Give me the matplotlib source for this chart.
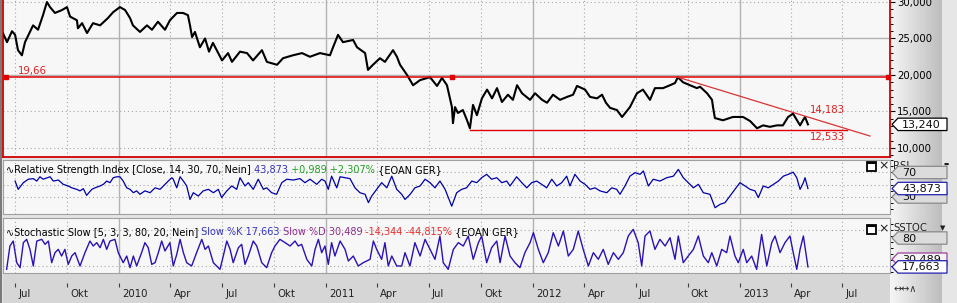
import datetime as dt
import matplotlib
matplotlib.use("Agg")
import matplotlib.pyplot as plt
import numpy as np
from matplotlib.patches import Polygon, Rectangle
from matplotlib.transforms import ScaledTranslation, blended_transform_factory

plt.rcParams['font.family'] = ['DejaVu Sans']

# ---------------- data (decimal years / EUR / indicator values) ----------------
price_t = [2009.436, 2009.456, 2009.480, 2009.495, 2009.509, 2009.528, 2009.543, 2009.582, 2009.606, 2009.630,
           2009.649, 2009.664, 2009.688, 2009.722, 2009.746, 2009.761, 2009.794, 2009.799, 2009.819, 2009.843,
           2009.872, 2009.906, 2009.944, 2009.969, 2010.002, 2010.027, 2010.051, 2010.065, 2010.099, 2010.133,
           2010.157, 2010.186, 2010.220, 2010.244, 2010.278, 2010.307, 2010.331, 2010.341, 2010.351, 2010.365,
           2010.389, 2010.414, 2010.433, 2010.452, 2010.496, 2010.525, 2010.544, 2010.583, 2010.617, 2010.646,
           2010.689, 2010.713, 2010.762, 2010.791, 2010.839, 2010.883, 2010.921, 2010.970, 2011.018, 2011.033,
           2011.057, 2011.081, 2011.130, 2011.149, 2011.188, 2011.202, 2011.226, 2011.260, 2011.284, 2011.323,
           2011.342, 2011.357, 2011.391, 2011.420, 2011.454, 2011.502, 2011.536, 2011.560, 2011.584, 2011.608,
           2011.613, 2011.623, 2011.637, 2011.661, 2011.681, 2011.695, 2011.710, 2011.729, 2011.753, 2011.778,
           2011.802, 2011.826, 2011.850, 2011.879, 2011.903, 2011.923, 2011.947, 2011.986, 2012.010, 2012.044,
           2012.068, 2012.097, 2012.131, 2012.165, 2012.194, 2012.213, 2012.252, 2012.276, 2012.310, 2012.334,
           2012.353, 2012.373, 2012.406, 2012.431, 2012.469, 2012.503, 2012.532, 2012.566, 2012.590, 2012.629,
           2012.663, 2012.687, 2012.701, 2012.726, 2012.760, 2012.793, 2012.808, 2012.842, 2012.866, 2012.871,
           2012.880, 2012.919, 2012.967, 2013.016, 2013.050, 2013.084, 2013.113, 2013.146, 2013.180, 2013.209,
           2013.234, 2013.258, 2013.277, 2013.292, 2013.306, 2013.316, 2013.330]
price_v = [25.75, 24.50, 26.00, 25.50, 23.40, 22.70, 24.50, 26.80, 26.20, 28.20,
           30.00, 29.30, 28.50, 28.90, 29.30, 28.00, 27.50, 26.40, 27.10, 25.75,
           27.10, 26.80, 27.80, 28.60, 29.30, 28.90, 27.80, 26.80, 25.90, 26.80,
           26.20, 27.30, 26.20, 27.50, 28.50, 28.50, 28.20, 26.80, 25.20, 25.90,
           23.80, 25.00, 23.20, 24.40, 22.00, 23.00, 21.80, 23.20, 23.00, 22.00,
           23.40, 21.80, 21.40, 22.30, 22.70, 23.00, 22.50, 23.00, 22.70, 23.80,
           25.50, 24.50, 24.80, 23.80, 23.00, 20.70, 21.40, 22.30, 21.80, 23.40,
           22.50, 21.40, 20.00, 18.60, 19.30, 19.70, 18.50, 19.60, 18.60, 15.60,
           13.40, 15.60, 14.80, 15.20, 13.80, 12.70, 15.90, 14.50, 16.80, 18.00,
           16.80, 18.20, 16.30, 17.30, 16.60, 18.60, 17.50, 16.60, 17.50, 16.60,
           16.20, 17.30, 16.60, 17.00, 17.30, 18.50, 18.00, 17.00, 16.80, 17.30,
           16.20, 15.50, 15.20, 14.25, 15.60, 17.50, 18.00, 16.60, 18.20, 18.20,
           18.60, 18.90, 19.70, 19.00, 18.60, 18.20, 18.40, 17.50, 16.60, 15.60,
           14.10, 13.80, 14.25, 14.25, 13.70, 12.70, 13.10, 12.90, 13.10, 13.10,
           14.25, 14.70, 13.80, 13.10, 13.80, 14.25, 13.24]

rsi_t = [2009.495, 2009.510, 2009.535, 2009.559, 2009.583, 2009.600, 2009.615, 2009.631, 2009.664, 2009.680,
         2009.704, 2009.728, 2009.752, 2009.769, 2009.793, 2009.809, 2009.825, 2009.841, 2009.866, 2009.882,
         2009.906, 2009.922, 2009.938, 2009.954, 2009.970, 2009.987, 2010.002, 2010.018, 2010.035, 2010.051,
         2010.067, 2010.083, 2010.099, 2010.123, 2010.148, 2010.172, 2010.196, 2010.212, 2010.236, 2010.253,
         2010.260, 2010.277, 2010.293, 2010.309, 2010.325, 2010.341, 2010.357, 2010.381, 2010.405, 2010.430,
         2010.454, 2010.478, 2010.494, 2010.519, 2010.543, 2010.567, 2010.583, 2010.607, 2010.623, 2010.647,
         2010.671, 2010.696, 2010.712, 2010.736, 2010.760, 2010.785, 2010.809, 2010.841, 2010.873, 2010.897,
         2010.922, 2010.954, 2010.978, 2010.994, 2011.010, 2011.026, 2011.051, 2011.067, 2011.091, 2011.115,
         2011.139, 2011.163, 2011.188, 2011.204, 2011.220, 2011.244, 2011.268, 2011.293, 2011.317, 2011.341,
         2011.365, 2011.381, 2011.405, 2011.429, 2011.454, 2011.478, 2011.502, 2011.526, 2011.550, 2011.575,
         2011.607, 2011.631, 2011.655, 2011.679, 2011.704, 2011.728, 2011.752, 2011.776, 2011.800, 2011.825,
         2011.849, 2011.873, 2011.889, 2011.921, 2011.946, 2011.970, 2011.994, 2012.018, 2012.042, 2012.066,
         2012.091, 2012.115, 2012.139, 2012.163, 2012.179, 2012.203, 2012.228, 2012.252, 2012.276, 2012.300,
         2012.324, 2012.357, 2012.381, 2012.405, 2012.421, 2012.445, 2012.469, 2012.494, 2012.518, 2012.534,
         2012.558, 2012.582, 2012.614, 2012.647, 2012.679, 2012.703, 2012.727, 2012.751, 2012.776, 2012.800,
         2012.824, 2012.856, 2012.881, 2012.905, 2012.929, 2012.953, 2012.977, 2013.001, 2013.026, 2013.050,
         2013.074, 2013.090, 2013.114, 2013.138, 2013.163, 2013.187, 2013.211, 2013.235, 2013.259, 2013.276,
         2013.292, 2013.308, 2013.316, 2013.330]
rsi_v = [56, 42.5, 53.4, 59, 60, 56, 63, 59, 63, 56,
         57.7, 50.7, 48, 45, 42.5, 40, 43.6, 32.7, 42.5, 45,
         48, 50.7, 56, 53.4, 61.5, 63, 63, 56, 45, 42.5,
         37, 40, 34.4, 40, 37, 45, 42.5, 48, 56, 61.5,
         59, 45, 63, 56, 48, 26, 37, 31.6, 40, 42.5,
         37, 42.5, 29, 40, 48, 42.5, 61.5, 48, 53.4, 42.5,
         59, 42.5, 45, 37, 34.4, 53.4, 59, 57.7, 60, 53.4,
         59, 50.7, 59, 56, 42.5, 64, 45, 63, 61.5, 60,
         45, 37, 34.4, 20.8, 31.6, 42.5, 53.4, 45, 64, 42.5,
         34.4, 26, 34, 45, 48, 59, 53.4, 45, 56, 42.5,
         15, 37, 42.5, 45, 56, 53.4, 61.5, 67, 59, 61.5,
         53.4, 56, 48, 63, 53.4, 45, 53.4, 56, 50.7, 45,
         59, 48, 53.4, 64, 48, 67, 56, 50.7, 42.5, 45,
         40, 37, 45, 42.5, 34.4, 48, 64, 69.7, 67, 72.5,
         48, 59, 56, 61.5, 64, 75, 61.5, 53.4, 45, 50.7,
         37, 34.4, 12.5, 18, 20.8, 31.6, 42.5, 53.4, 48, 42.5,
         40, 29, 48, 45, 50.7, 56, 64, 67, 70.5, 61.5,
         42.5, 53.4, 61.5, 43.873]

stoch_t = [2009.454, 2009.470, 2009.486, 2009.503, 2009.519, 2009.535, 2009.551, 2009.567, 2009.583, 2009.600,
           2009.624, 2009.640, 2009.656, 2009.672, 2009.688, 2009.704, 2009.720, 2009.736, 2009.752, 2009.769,
           2009.785, 2009.809, 2009.833, 2009.857, 2009.873, 2009.890, 2009.906, 2009.922, 2009.938, 2009.954,
           2009.978, 2009.994, 2010.018, 2010.035, 2010.051, 2010.067, 2010.083, 2010.107, 2010.123, 2010.139,
           2010.156, 2010.172, 2010.188, 2010.204, 2010.220, 2010.244, 2010.260, 2010.277, 2010.293, 2010.309,
           2010.325, 2010.349, 2010.373, 2010.398, 2010.414, 2010.430, 2010.454, 2010.486, 2010.502, 2010.519,
           2010.535, 2010.550, 2010.575, 2010.591, 2010.607, 2010.623, 2010.647, 2010.664, 2010.688, 2010.712,
           2010.736, 2010.752, 2010.776, 2010.801, 2010.825, 2010.849, 2010.865, 2010.881, 2010.906, 2010.930,
           2010.946, 2010.962, 2010.978, 2010.994, 2011.010, 2011.026, 2011.042, 2011.067, 2011.091, 2011.107,
           2011.131, 2011.155, 2011.179, 2011.212, 2011.228, 2011.244, 2011.268, 2011.284, 2011.300, 2011.317,
           2011.341, 2011.365, 2011.381, 2011.405, 2011.429, 2011.454, 2011.478, 2011.502, 2011.526, 2011.550,
           2011.566, 2011.590, 2011.615, 2011.639, 2011.663, 2011.687, 2011.711, 2011.736, 2011.752, 2011.776,
           2011.800, 2011.825, 2011.841, 2011.865, 2011.889, 2011.913, 2011.937, 2011.961, 2011.986, 2012.002,
           2012.026, 2012.050, 2012.074, 2012.098, 2012.123, 2012.147, 2012.171, 2012.195, 2012.219, 2012.243,
           2012.268, 2012.292, 2012.316, 2012.340, 2012.364, 2012.389, 2012.413, 2012.437, 2012.461, 2012.485,
           2012.509, 2012.526, 2012.542, 2012.566, 2012.590, 2012.614, 2012.639, 2012.663, 2012.687, 2012.703,
           2012.727, 2012.751, 2012.776, 2012.800, 2012.824, 2012.848, 2012.865, 2012.889, 2012.913, 2012.937,
           2012.953, 2012.977, 2012.993, 2013.017, 2013.034, 2013.058, 2013.082, 2013.106, 2013.131, 2013.155,
           2013.171, 2013.195, 2013.219, 2013.243, 2013.259, 2013.276, 2013.292, 2013.308, 2013.322, 2013.330]
stoch_k = [13.6, 52.5, 60.8, 24.7, 16.4, 58.1, 63.6, 46.9, 19.2, 60.8,
           63.6, 55.3, 60.8, 24.7, 41.4, 46.9, 35.8, 46.9, 21.9, 35.8,
           41.4, 19.2, 41.4, 60.8, 52.5, 58.1, 49.7, 63.6, 46.9, 60.8,
           63.6, 41.4, 24.7, 35.8, 16.4, 35.8, 19.2, 41.4, 58.1, 49.7,
           21.9, 24.7, 41.4, 60.8, 44.2, 58.1, 19.2, 38.6, 63.6, 41.4,
           24.7, 19.2, 41.4, 63.6, 46.9, 52.5, 24.7, 13.6, 35.8, 60.8,
           46.9, 24.7, 49.7, 55.3, 21.9, 35.8, 60.8, 52.5, 24.7, 16.4,
           41.4, 52.5, 63.6, 58.1, 52.5, 60.8, 52.5, 55.3, 30.3, 19.2,
           46.9, 63.6, 41.4, 52.5, 21.9, 58.1, 35.8, 60.8, 46.9, 27.5,
           35.8, 19.2, 24.7, 30.3, 60.8, 46.9, 30.3, 58.1, 19.2, 35.8,
           19.2, 19.2, 41.4, 19.2, 58.1, 35.8, 63.6, 46.9, 30.3, 69.2,
           24.7, 13.6, 46.9, 58.1, 52.5, 69.2, 30.3, 58.1, 69.2, 24.7,
           49.7, 60.8, 24.7, 69.2, 35.8, 24.7, 16.4, 41.4, 58.1, 74.7,
           46.9, 24.7, 41.4, 74.7, 52.5, 77.5, 35.8, 46.9, 77.5, 46.9,
           19.2, 41.4, 30.3, 46.9, 21.9, 41.4, 30.3, 41.4, 69.2, 80.3,
           58.1, 19.2, 69.2, 77.5, 46.9, 63.6, 52.5, 66.4, 30.3, 69.2,
           24.7, 35.8, 46.9, 69.2, 35.8, 24.7, 41.4, 19.2, 46.9, 41.4,
           69.2, 35.8, 24.7, 46.9, 24.7, 35.8, 13.6, 71.9, 19.2, 58.1,
           69.2, 41.4, 58.1, 69.2, 41.4, 13.6, 46.9, 69.2, 35.8, 17.663]

resist_level = 19.66
resist_t = [2009.451, 2011.608, 2013.717]
support_level = 12.533
support_t = [2011.695, 2013.519]
trend_t = [2012.701, 2013.630]
trend_v = [19.70, 11.64]
trend_now = 14.183
last_close = 13.240
rsi_last, rsi_chg, rsi_pct = 43.873, 0.989, 2.307
slow_k, slow_d, k_chg, k_pct = 17.663, 30.489, -14.344, -44.815
rsi_grid = [70, 50, 30]
stoch_grid = [80, 20]
price_ticks = [10, 15, 20, 25, 30]
month_names = {1: None, 4: 'Apr', 7: 'Jul', 10: 'Okt'}

# ---------------- helpers ----------------
W, H = 957, 303
FS = 7.3
HFS = 7.05


def de(v, nd=3, sign=False):
    s = f"{v:+,.{nd}f}" if sign else f"{v:,.{nd}f}"
    return s.replace(',', '_').replace('.', ',').replace('_', '.')


def dec_year(y, m, d=1):
    start = dt.date(y, 1, 1)
    n = (dt.date(y + 1, 1, 1) - start).days
    return y + (dt.date(y, m, d) - start).days / n


def rect(x0, y0, x1, y1):
    return [x0 / W, 1 - y1 / H, (x1 - x0) / W, (y1 - y0) / H]


ticks = []
y, m = 2009, 7
while (y, m) <= (2013, 7):
    ticks.append((y, m))
    m += 3
    if m > 12:
        m -= 12
        y += 1

XL = (2009.4365, 2013.727)

fig = plt.figure(figsize=(9.57, 3.03), dpi=100, facecolor='#E4E4E4')

# right-hand gradient area
bg = fig.add_axes(rect(890, 0, 957, 303), zorder=-5)
grad = np.concatenate([np.linspace(0.96, 0.74, 52), np.full(15, 0.90)])
bg.imshow(grad[None, :], aspect='auto', cmap='gray', vmin=0, vmax=1, extent=(0, 1, 0, 1))
bg.axis('off')
fig.add_artist(Rectangle((0, 0), 2 / W, 1, transform=fig.transFigure, fc='#7A7A7A', ec='none'))

ax_p = fig.add_axes(rect(3, 0, 890, 157), facecolor='#F7F7F7')
ax_r = fig.add_axes(rect(3, 160, 890, 214), facecolor='#F7F7F7')
ax_s = fig.add_axes(rect(3, 218, 890, 273), facecolor='#F7F7F7')
ax_d = fig.add_axes(rect(3, 273, 890, 303), facecolor='#D6D6D6')

for ax in (ax_p, ax_r, ax_s, ax_d):
    ax.set_xlim(*XL)
    ax.set_xticks([])

tick_pos = [dec_year(yy, mm) for yy, mm in ticks]
for ax in (ax_p, ax_r, ax_s):
    for (yy, mm), tp in zip(ticks, tick_pos):
        if mm == 1:
            ax.axvline(tp, color='#B2B2B2', lw=1.0, zorder=1)
        else:
            ax.axvline(tp, color='#A8A8A8', lw=0.8, ls=(0, (1, 2.5)), zorder=1)

DOT = dict(color='#A8A8A8', lw=0.8, ls=(0, (1, 2.5)), zorder=1)

# ---------------- price panel ----------------
ax_p.set_ylim(8.767, 30.274)
for lv in price_ticks:
    if lv in (20, 25):
        ax_p.axhline(lv, color='#B2B2B2', lw=1.0, zorder=1)
    else:
        ax_p.axhline(lv, **DOT)
ax_p.plot(price_t, price_v, color='black', lw=1.5, zorder=3)
ax_p.plot(resist_t, [resist_level] * len(resist_t), color='#E00000', lw=1.1,
          marker='s', ms=3.5, zorder=4, clip_on=False)
ax_p.plot(support_t, [support_level] * len(support_t), color='#E00000', lw=1.0, zorder=4)
ax_p.plot(trend_t, trend_v, color='#D83434', lw=0.9, zorder=4)
ax_p.annotate(de(resist_level, 2), xy=(resist_t[0], resist_level), xytext=(8.6, 1),
              textcoords='offset points', color='#E02020', fontsize=FS, va='bottom')
ax_p.annotate(de(trend_now), xy=(price_t[-1], trend_now), xytext=(1.4, 2),
              textcoords='offset points', color='#E02020', fontsize=FS, va='bottom')
ax_p.annotate(de(support_level), xy=(price_t[-1], support_level), xytext=(1.4, -1.5),
              textcoords='offset points', color='#E02020', fontsize=FS, va='top')

ax_p.yaxis.tick_right()
ax_p.set_yticks(price_ticks)
ax_p.set_yticklabels([de(v) for v in price_ticks])
ax_p.set_yticks(np.arange(9, 31, 1), minor=True)
ax_p.tick_params(axis='y', which='major', direction='out', length=3.5, width=0.8, pad=1.5,
                 labelsize=FS, colors='black')
ax_p.tick_params(axis='y', which='minor', direction='out', length=1.8, width=0.7)
for side in ('left', 'bottom', 'right'):
    ax_p.spines[side].set_color('#D00000')
    ax_p.spines[side].set_linewidth(1.3)
ax_p.spines['top'].set_visible(False)

# ---------------- RSI panel ----------------
ax_r.set_ylim(2.24, 90.4)
for lv in rsi_grid:
    ax_r.axhline(lv, **DOT)
ax_r.plot(rsi_t, rsi_v, color='#0000A8', lw=0.9, zorder=3)

# ---------------- Stochastic panel ----------------
ax_s.set_ylim(7.5, 99.2)
for lv in stoch_grid:
    ax_s.axhline(lv, **DOT)
ax_s.plot(stoch_t, stoch_k, color='#2A12B4', lw=1.0, zorder=3)

for ax in (ax_r, ax_s):
    ax.yaxis.tick_right()
    ax.set_yticks(np.arange(10, 100, 10))
    ax.set_yticklabels([])
    ax.tick_params(axis='y', direction='out', length=1.8, width=0.7)
    for sp in ax.spines.values():
        sp.set_color('#A0A0A0')
        sp.set_linewidth(0.8)

# ---------------- date bar ----------------
ax_d.set_ylim(0, 1)
ax_d.set_yticks([])
for sp in ax_d.spines.values():
    sp.set_visible(False)
ax_d.axhline(1, color='#A0A0A0', lw=0.8)
for (yy, mm), tp in zip(ticks, tick_pos):
    lab = str(yy) if mm == 1 else month_names[mm]
    ax_d.vlines(tp, 0.53, 0.66, color='#404040', lw=0.8)
    ax_d.annotate(lab, xy=(tp, 0.29), xytext=(2.2, 0), textcoords='offset points',
                  ha='left', va='center', fontsize=FS, color='#202020', annotation_clip=False)

# ---------------- headers (overlay so they sit above the lines) ----------------
ov = fig.add_axes([0, 0, 1, 1], zorder=2)
ov.set_xlim(0, 1)
ov.set_ylim(0, 1)
ov.axis('off')


def chain(y_bottom_px, parts):
    s, c = parts[0]
    prev = ov.annotate(s, xy=(6 / W, 1 - y_bottom_px / H), xycoords='figure fraction',
                       color=c, fontsize=HFS, va='bottom', ha='left', annotation_clip=False)
    for s, c in parts[1:]:
        prev = ov.annotate(s, xy=(1, 0), xycoords=prev, color=c, fontsize=HFS,
                           va='bottom', ha='left', annotation_clip=False)


rsi_parts = [("\u223fRelative Strength Index [Close, 14, 30, 70, Nein]", 'black'),
             (" " + de(rsi_last), '#3434B4'),
             (" " + de(rsi_chg, sign=True) + " " + de(rsi_pct, sign=True) + "%", '#22A022'),
             (" {EOAN GER}", 'black')]
sto_parts = [("\u223fStochastic Slow [5, 3, 3, 80, 20, Nein]", 'black'),
             (" Slow %K " + de(slow_k), '#3434C8'),
             (" Slow %D " + de(slow_d), '#8E2C8E'),
             (" " + de(k_chg, sign=True) + " " + de(k_pct, sign=True) + "%", '#E43030'),
             (" {EOAN GER}", 'black')]

chain(175, rsi_parts)
chain(237, sto_parts)

# ---------------- right side labels / tags ----------------
ov.text(893 / W, 1 - 166 / H, 'RSI', fontsize=FS, va='center', ha='left', color='#202020', zorder=1)
ov.text(944 / W, 1 - 164 / H, '\u25ac', fontsize=4, va='center', ha='left', color='#202020', zorder=1)
ov.text(893 / W, 1 - 228 / H, 'SSTOC', fontsize=FS, va='center', ha='left', color='#202020', zorder=1)
ov.text(940 / W, 1 - 228 / H, '\u25bc', fontsize=5, va='center', ha='left', color='#202020', zorder=1)


def tag(ax, value, label, ec, fc, dy=0.0, z=3):
    base = blended_transform_factory(ax.transAxes, ax.transData)
    tr = fig.dpi_scale_trans + ScaledTranslation(1.0, value, base)
    h = 0.062
    verts = [(0.02, dy), (0.08, dy + h), (0.57, dy + h), (0.57, dy - h), (0.08, dy - h)]
    p = Polygon(verts, closed=True, transform=tr, fc=fc, ec=ec, lw=0.9, zorder=z)
    fig.add_artist(p)
    fig.text(0.12, dy - 0.005, label, transform=tr, ha='left', va='center',
             fontsize=FS + 0.7, color='#101010', zorder=z + 0.5)


tag(ax_p, last_close, de(last_close), 'black', 'white', z=3)
tag(ax_r, 70, '70', '#8A8A8A', '#DCDCDC', z=3)
tag(ax_r, 30, '30', '#8A8A8A', '#DCDCDC', z=4)
tag(ax_r, rsi_last, de(rsi_last), '#2020B0', 'white', z=5)
tag(ax_s, 80, '80', '#8A8A8A', '#DCDCDC', dy=-0.085, z=3)
tag(ax_s, slow_d, de(slow_d), '#A040A0', '#F4F4F4', z=4)
tag(ax_s, slow_k, de(slow_k), '#2020B0', 'white', z=5)


def icons(y_px):
    fig.add_artist(Rectangle((867 / W, 1 - (y_px + 4.5) / H), 9 / W, 9 / H, transform=fig.transFigure,
                             fc='white', ec='black', lw=1.3, zorder=6))
    fig.add_artist(Rectangle((867 / W, 1 - (y_px - 2.5) / H), 9 / W, 2 / H, transform=fig.transFigure,
                             fc='black', ec='none', zorder=6))
    fig.text(878 / W, 1 - y_px / H, '\u00d7', fontsize=9, va='center', ha='left', color='#202020', zorder=6)


icons(166)
icons(229)
fig.text(893 / W, 1 - 289 / H, '\u2194\u2194\u2227', fontsize=7, va='center', ha='left', color='#303030')

fig.savefig('out.png', dpi=100, facecolor=fig.get_facecolor())
